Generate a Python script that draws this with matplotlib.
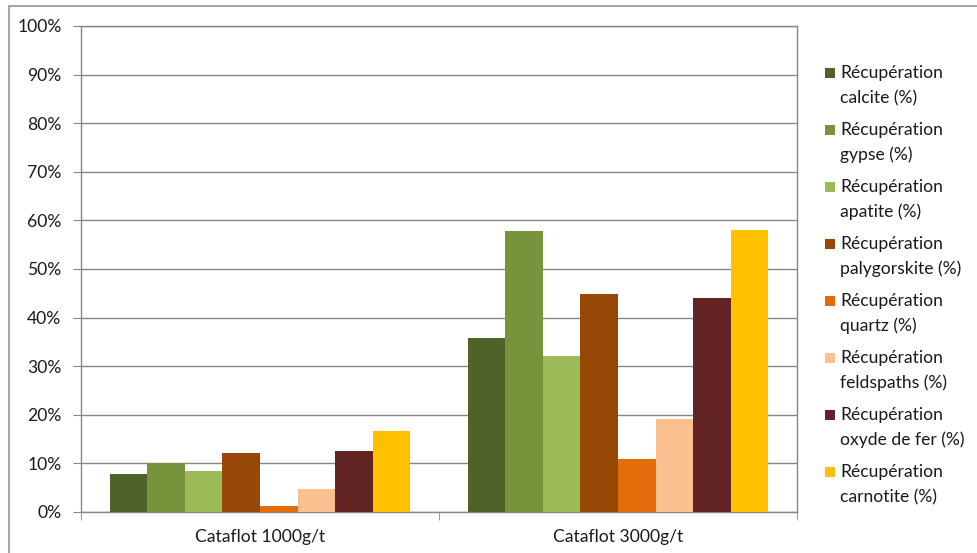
import numpy as np
import matplotlib.pyplot as plt
from matplotlib.patches import Rectangle
from matplotlib.ticker import PercentFormatter

categories = ['Cataflot 1000g/t', 'Cataflot 3000g/t']
series = ['Récupération\ncalcite (%)', 'Récupération\ngypse (%)',
          'Récupération\napatite (%)', 'Récupération\npalygorskite (%)',
          'Récupération\nquartz (%)', 'Récupération\nfeldspaths (%)',
          'Récupération\noxyde de fer (%)', 'Récupération\ncarnotite (%)']
calcite = [7.8, 35.7]
gypse = [10.0, 57.8]
apatite = [8.4, 32.0]
palygorskite = [12.2, 44.8]
quartz = [1.2, 11.0]
feldspaths = [4.7, 19.2]
oxyde_fer = [12.6, 44.0]
carnotite = [16.7, 58.1]
values = [calcite, gypse, apatite, palygorskite, quartz, feldspaths, oxyde_fer, carnotite]
colors = ['#4F6228', '#77933C', '#9BBB59', '#974806',
          '#E46C0A', '#FAC090', '#632523', '#FFC000']

plt.rcParams['font.family'] = ['Lato', 'DejaVu Sans']
txt = '#1a1a1a'
grid_c = '#868686'
fs = 12.6

W, H = 977, 553
fig = plt.figure(figsize=(W / 100, H / 100), dpi=100)
ax = fig.add_axes([81 / W, 1 - 512 / H, (797 - 81) / W, (512 - 26) / H])

x = np.arange(len(categories))
bw = 0.105
for i, (vals, col) in enumerate(zip(values, colors)):
    ax.bar(x + (i - 3.5) * bw, vals, bw, color=col, linewidth=0, zorder=3)

ax.set_xlim(-0.5, 1.5)
ax.set_ylim(0, 100)
ax.set_yticks(np.arange(0, 101, 10))
ax.yaxis.set_major_formatter(PercentFormatter(decimals=0))
ax.grid(axis='y', color=grid_c, linewidth=1, zorder=0)
ax.set_axisbelow(True)

ax.set_xticks(x)
ax.set_xticklabels(categories)
ax.set_xticks([-0.5, 0.5, 1.5], minor=True)
ax.tick_params(axis='x', which='major', length=0, pad=12, labelsize=fs, labelcolor=txt)
ax.tick_params(axis='x', which='minor', length=6, color=grid_c, direction='out')
ax.tick_params(axis='y', length=6, color=grid_c, pad=8, labelsize=fs, labelcolor=txt)
for s in ax.spines.values():
    s.set_color(grid_c)
    s.set_linewidth(1)

# legend drawn Excel-style, square next to the first line
for i, (lab, col) in enumerate(zip(series, colors)):
    yc = 73 + 57 * i
    fig.add_artist(Rectangle((825 / W, 1 - (yc + 5) / H), 10 / W, 10 / H,
                             transform=fig.transFigure, color=col, linewidth=0))
    for j, line in enumerate(lab.split('\n')):
        fig.text(840 / W, 1 - (yc + 25 * j) / H, line, ha='left', va='center',
                 fontsize=fs, color=txt)

# outer chart border
fig.add_artist(Rectangle((9 / W, -0.1), 1.1, 1.1 - 6 / H,
                         transform=fig.transFigure, fill=False,
                         edgecolor='#a6a6a6', linewidth=1.5))

fig.savefig('out.png', dpi=100)
